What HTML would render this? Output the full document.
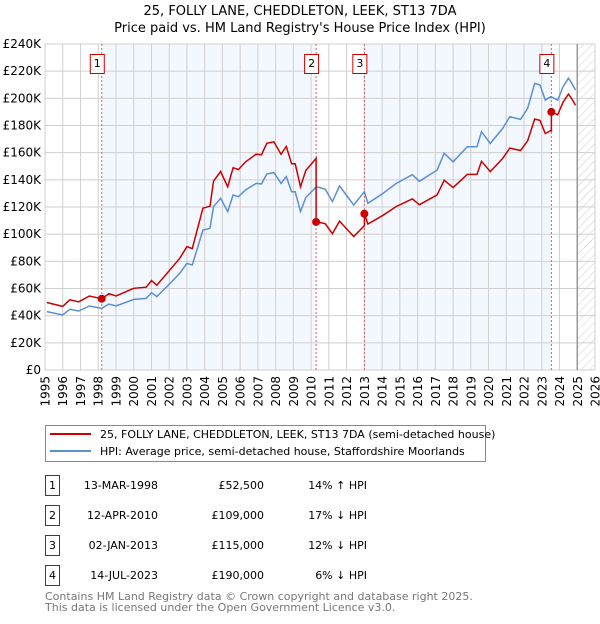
<!DOCTYPE html>
<html><head><meta charset="utf-8">
<style>
body{margin:0;background:#fff;font-family:"DejaVu Sans","Liberation Sans",sans-serif;}
svg text{font-family:"DejaVu Sans","Liberation Sans",sans-serif;}
</style></head>
<body>
<svg id="chart" width="600" height="620" xmlns="http://www.w3.org/2000/svg">
<defs>
<pattern id="hatch" patternUnits="userSpaceOnUse" width="6" height="6" patternTransform="rotate(45)">
<line x1="0" y1="0" x2="0" y2="6" stroke="#ccc" stroke-width="1"/>
</pattern>
</defs>
<text x="300" y="15" text-anchor="middle" font-size="13">25, FOLLY LANE, CHEDDLETON, LEEK, ST13 7DA</text>
<text x="300" y="32" text-anchor="middle" font-size="13">Price paid vs. HM Land Registry's House Price Index (HPI)</text>
<g id="plot"></g>
<g>
<rect x="45.5" y="425.5" width="440" height="36" fill="#fff" stroke="#888"/>
<line x1="50" y1="434" x2="91" y2="434" stroke="#cc0000" stroke-width="2"/>
<text x="100" y="438" font-size="11">25, FOLLY LANE, CHEDDLETON, LEEK, ST13 7DA (semi-detached house)</text>
<line x1="50" y1="451" x2="91" y2="451" stroke="#5b8fd4" stroke-width="2"/>
<text x="100" y="455" font-size="11">HPI: Average price, semi-detached house, Staffordshire Moorlands</text>
</g>
<g id="table"></g>
<text x="45" y="600" font-size="11" fill="#777">Contains HM Land Registry data © Crown copyright and database right 2025.</text>
<text x="45" y="611" font-size="11" fill="#777">This data is licensed under the Open Government Licence v3.0.</text>
</svg>
<script>
const hpiYears=[1995.1,1996.0,1996.4,1996.9,1997.5,1998.2,1998.6,1999.0,2000.0,2000.7,2001.0,2001.3,2001.9,2002.6,2003.0,2003.3,2003.9,2004.3,2004.5,2004.9,2005.3,2005.6,2005.9,2006.3,2006.9,2007.2,2007.5,2007.9,2008.3,2008.6,2008.9,2009.1,2009.4,2009.7,2010.3,2010.8,2011.2,2011.6,2012.4,2013.0,2013.2,2014.05,2014.8,2015.7,2016.1,2017.1,2017.5,2018.0,2018.8,2019.35,2019.6,2020.1,2020.8,2021.2,2021.8,2022.2,2022.6,2022.9,2023.2,2023.5,2023.9,2024.2,2024.5,2024.7,2024.9];
const hpiValues=[43,40.5,44.7,43.4,47.1,45.4,48.6,47.1,52,52.7,56.9,54,61.8,71.2,78.5,77.3,103,104.3,120.2,126.4,116.6,128.8,127.6,132.5,137.4,137,144.3,145.3,137.4,142.3,131.3,131.3,116.6,127,135,133,124,135.5,121.5,131.3,122.7,130,137.4,143.8,138.9,147.2,159.5,153.3,164.4,164.4,175.4,166.8,177.9,186.5,184.5,192.6,211,209.8,198.7,201.2,198.7,208.6,214.8,211,206.1];
const saleYears=[1998.2,2010.28,2013.0,2023.54];
const salePrices=[52.5,109,115,190];
const saleLabels=["1","2","3","4"];
const saleDates=["13-MAR-1998","12-APR-2010","02-JAN-2013","14-JUL-2023"];
const salePriceText=["£52,500","£109,000","£115,000","£190,000"];
const saleHpiText=["14% ↑ HPI","17% ↓ HPI","12% ↓ HPI","6% ↓ HPI"];
const yTicks=[0,20,40,60,80,100,120,140,160,180,200,220,240];
const xTicks=[1995,1996,1997,1998,1999,2000,2001,2002,2003,2004,2005,2006,2007,2008,2009,2010,2011,2012,2013,2014,2015,2016,2017,2018,2019,2020,2021,2022,2023,2024,2025,2026];

const NS="http://www.w3.org/2000/svg";
const L=45,R=595,T=44,B=370;
const X=y=>L+(y-1995)/(2026-1995)*(R-L);
const Y=v=>B-v/240*(B-T);
function mk(tag,attrs,parent){const e=document.createElementNS(NS,tag);for(const k in attrs)e.setAttribute(k,attrs[k]);parent.appendChild(e);return e;}
function hpiAt(t){if(t<=hpiYears[0])return hpiValues[0];for(let i=1;i<hpiYears.length;i++){if(t<=hpiYears[i]){const f=(t-hpiYears[i-1])/(hpiYears[i]-hpiYears[i-1]);return hpiValues[i-1]+f*(hpiValues[i]-hpiValues[i-1]);}}return hpiValues[hpiValues.length-1];}
const plot=document.getElementById('plot');
for(let i=0;i<saleYears.length;i+=2){
 const x1=X(saleYears[i]),x2=i+1<saleYears.length?X(saleYears[i+1]):X(2025);
 const r=mk('rect',{x:x1,y:T,width:x2-x1,height:B-T,fill:'#f3f7fe'},plot);
 
 
}
const hz=mk('rect',{x:X(2025),y:T,width:R-X(2025),height:B-T,fill:'url(#hatch)'},plot);


yTicks.forEach(v=>{
 const ln=mk('line',{x1:L,x2:R,y1:Y(v),y2:Y(v),stroke:'#cfcfcf','stroke-width':1},plot);
 
 
 const t=mk('text',{x:L-4,y:Y(v)+4,'text-anchor':'end','font-size':12},plot);
 
 
 t.textContent=v===0?'£0':'£'+v+'K';
});
xTicks.forEach(yr=>{
 const ln=mk('line',{x1:X(yr),x2:X(yr),y1:T,y2:B,stroke:'#cfcfcf','stroke-width':1},plot);
 
 
 const t=mk('text',{x:0,y:0,'text-anchor':'end','font-size':12,transform:'translate('+(X(yr)+4.5)+',376) rotate(-90)'},plot);
 
 
 t.textContent=yr;
});
const nl=mk('line',{x1:X(2025),x2:X(2025),y1:T,y2:B,stroke:'#999','stroke-width':1.5},plot);


saleYears.forEach((s,i)=>{
 const ln=mk('line',{x1:X(s),x2:X(s),y1:T,y2:B,stroke:'#e06060','stroke-width':1,'stroke-dasharray':'2,2'},plot);
 
 
 const g=mk('g',{},plot);
 
 
 mk('rect',{x:X(s)-11.5,y:54.5,width:14,height:19,fill:'#fff',stroke:'#cc0000'},g);
 const t=mk('text',{x:X(s)-4.5,y:67,'text-anchor':'middle','font-size':11},g);
 t.textContent=saleLabels[i];
});
let d='';
hpiYears.forEach((yr,i)=>{d+=(i?'L':'M')+X(yr).toFixed(1)+','+Y(hpiValues[i]).toFixed(1);});
const hp=mk('path',{d:d,fill:'none',stroke:'#5b8fd4','stroke-width':1.5},plot);


let pd='';
const times=hpiYears.concat(saleYears).sort((a,b)=>a-b);
function segIdx(t){let k=0;for(let i=0;i<saleYears.length;i++)if(t>=saleYears[i])k=i;return k;}
let prevK=-1;
times.forEach((t,i)=>{
 const k=segIdx(t);
 const v=hpiAt(t)*salePrices[k]/hpiAt(saleYears[k]);
 if(prevK>=0&&k!==prevK){
  const vp=hpiAt(t)*salePrices[prevK]/hpiAt(saleYears[prevK]);
  pd+='L'+X(t).toFixed(1)+','+Y(vp).toFixed(1);
 }
 pd+=(i?'L':'M')+X(t).toFixed(1)+','+Y(v).toFixed(1);
 prevK=k;
});
const pp=mk('path',{d:pd,fill:'none',stroke:'#cc0000','stroke-width':1.5},plot);


saleYears.forEach((s,i)=>{
 const c=mk('circle',{cx:X(s),cy:Y(salePrices[i]),r:4,fill:'#cc0000'},plot);
 
 
});
const tb=document.getElementById('table');
saleYears.forEach((s,i)=>{
 const y0=475+i*30;
 const g=mk('g',{},tb);
 
 
 mk('rect',{x:45.5,y:y0+0.5,width:14,height:20,fill:'#fff',stroke:'#cc0000'},g);
 const a=mk('text',{x:52.5,y:y0+14,'text-anchor':'middle','font-size':11},g);a.textContent=saleLabels[i];
 const b=mk('text',{x:158,y:y0+14,'text-anchor':'end','font-size':11},g);b.textContent=saleDates[i];
 const c=mk('text',{x:264,y:y0+14,'text-anchor':'end','font-size':11},g);c.textContent=salePriceText[i];
 const e=mk('text',{x:367,y:y0+14,'text-anchor':'end','font-size':11},g);e.textContent=saleHpiText[i];
});
</script>
</body></html>
